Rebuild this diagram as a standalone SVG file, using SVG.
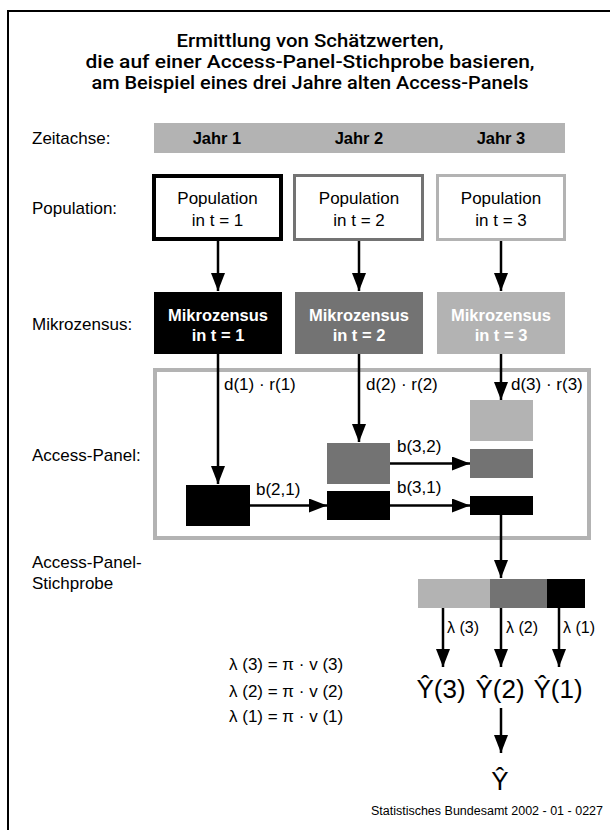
<svg xmlns="http://www.w3.org/2000/svg" width="610" height="830" viewBox="0 0 610 830">
<defs>
<style>
text{font-family:"Liberation Sans",Arial,sans-serif;fill:#000}
.t{font-family:Roboto,"Liberation Sans",sans-serif;font-size:17.5px;font-weight:500;text-anchor:middle}
.lbl{font-size:17px}
.c{font-size:17px;text-anchor:middle}
.b{font-size:16.5px;font-weight:bold;text-anchor:middle}
.w{fill:#fff}
.s{font-size:16px}
.y{font-size:26px;text-anchor:middle}
.f{font-size:12.5px;text-anchor:end}
.con{stroke:#000;stroke-width:2.5;fill:none;marker-end:url(#ah)}
.k{fill:#000}.m{fill:#737373}.l{fill:#b3b3b3}
</style>
<marker id="ah" markerUnits="userSpaceOnUse" markerWidth="18" markerHeight="14" refX="18" refY="7" orient="auto"><path d="M0,0 L18,7 L0,14 z" fill="#000"/></marker>
</defs>
<rect width="610" height="830" fill="#fff"/>
<path d="M8,830 V11 H610" fill="none" stroke="#000" stroke-width="2"/>
<g id="title">
<text class="t" x="310" y="47" textLength="267" lengthAdjust="spacingAndGlyphs">Ermittlung von Schätzwerten,</text>
<text class="t" x="310" y="68" textLength="449" lengthAdjust="spacingAndGlyphs">die auf einer Access-Panel-Stichprobe basieren,</text>
<text class="t" x="310" y="88.5" textLength="437" lengthAdjust="spacingAndGlyphs">am Beispiel eines drei Jahre alten Access-Panels</text>
</g>
<g id="row-labels">
<text class="lbl" x="32" y="144">Zeitachse:</text>
<text class="lbl" x="32" y="214">Population:</text>
<text class="lbl" x="32" y="330">Mikrozensus:</text>
<text class="lbl" x="32" y="461">Access-Panel:</text>
<text class="lbl" x="32" y="568">Access-Panel-</text>
<text class="lbl" x="32" y="589">Stichprobe</text>
</g>
<g id="zeitachse">
<rect x="154" y="123" width="411" height="30" class="l"/>
<text class="b" x="217" y="144">Jahr 1</text>
<text class="b" x="359" y="144">Jahr 2</text>
<text class="b" x="501" y="144">Jahr 3</text>
</g>
<g id="pop1">
<rect x="154" y="176" width="127" height="63" fill="#fff" stroke="#000" stroke-width="4"/>
<text class="c" x="217.5" y="204">Population</text>
<text class="c" x="217.5" y="226">in t = 1</text>
</g>
<g id="pop2">
<rect x="294.5" y="175.5" width="128" height="64" fill="#fff" stroke="#737373" stroke-width="3"/>
<text class="c" x="359" y="204">Population</text>
<text class="c" x="359" y="226">in t = 2</text>
</g>
<g id="pop3">
<rect x="437.5" y="175.5" width="127" height="64" fill="#fff" stroke="#b3b3b3" stroke-width="3"/>
<text class="c" x="501" y="204">Population</text>
<text class="c" x="501" y="226">in t = 3</text>
</g>
<g id="mz1">
<rect x="154" y="292" width="128" height="62" class="k"/>
<text class="b w" x="218" y="321">Mikrozensus</text>
<text class="b w" x="218" y="341">in t = 1</text>
</g>
<g id="mz2">
<rect x="295" y="292" width="128" height="62" class="m"/>
<text class="b w" x="359" y="321">Mikrozensus</text>
<text class="b w" x="359" y="341">in t = 2</text>
</g>
<g id="mz3">
<rect x="437" y="292" width="128" height="62" class="l"/>
<text class="b w" x="501" y="321">Mikrozensus</text>
<text class="b w" x="501" y="341">in t = 3</text>
</g>
<g id="access-panel">
<rect x="155" y="370" width="434" height="168" fill="none" stroke="#b3b3b3" stroke-width="4"/>
</g>
<g id="ap1"><rect x="186" y="485" width="64" height="41" class="k"/></g>
<g id="ap2-2"><rect x="327" y="443" width="63" height="41" class="m"/></g>
<g id="ap2-1"><rect x="327" y="491" width="63" height="29" class="k"/></g>
<g id="ap3-3"><rect x="470" y="400" width="63" height="41" class="l"/></g>
<g id="ap3-2"><rect x="470" y="449" width="63" height="29" class="m"/></g>
<g id="ap3-1"><rect x="470" y="496" width="63" height="19" class="k"/></g>
<g id="stichprobe">
<rect x="418" y="579" width="72" height="29" class="l"/>
<rect x="490" y="579" width="57" height="29" class="m"/>
<rect x="547" y="579" width="38" height="29" class="k"/>
</g>
<g id="estimates">
<text class="y" x="441" y="698">Ŷ(3)</text>
<text class="y" x="500" y="698">Ŷ(2)</text>
<text class="y" x="558" y="698">Ŷ(1)</text>
<text class="y" x="500" y="790">Ŷ</text>
</g>
<g id="connectors">
<line class="con" x1="218" y1="241" x2="218" y2="291"/>
<line class="con" x1="359" y1="241" x2="359" y2="291"/>
<line class="con" x1="501" y1="241" x2="501" y2="291"/>
<line class="con" x1="218" y1="354" x2="218" y2="484"/>
<line class="con" x1="359" y1="354" x2="359" y2="442"/>
<line class="con" x1="501" y1="354" x2="501" y2="400"/>
<line class="con" x1="250" y1="505.5" x2="327" y2="505.5"/>
<line class="con" x1="390" y1="505.5" x2="470" y2="505.5"/>
<line class="con" x1="390" y1="463.5" x2="470" y2="463.5"/>
<line class="con" x1="501" y1="515" x2="501" y2="578"/>
<line class="con" x1="443" y1="608" x2="443" y2="667"/>
<line class="con" x1="501" y1="608" x2="501" y2="667"/>
<line class="con" x1="559" y1="608" x2="559" y2="667"/>
<line class="con" x1="501" y1="708" x2="501" y2="753"/>
<text class="lbl" x="224" y="390">d(1) · r(1)</text>
<text class="lbl" x="366" y="390">d(2) · r(2)</text>
<text class="lbl" x="511" y="390">d(3) · r(3)</text>
<text class="lbl" x="256" y="495">b(2,1)</text>
<text class="lbl" x="397" y="452">b(3,2)</text>
<text class="lbl" x="397" y="493">b(3,1)</text>
<text class="s" x="447" y="633">λ (3)</text>
<text class="s" x="506" y="633">λ (2)</text>
<text class="s" x="563" y="633">λ (1)</text>
</g>
<g id="formulas">
<text class="lbl" x="229" y="670">λ (3) = π · v (3)</text>
<text class="lbl" x="229" y="697">λ (2) = π · v (2)</text>
<text class="lbl" x="229" y="722">λ (1) = π · v (1)</text>
</g>
<text class="f" x="603" y="815">Statistisches Bundesamt 2002 - 01 - 0227</text>
</svg>
